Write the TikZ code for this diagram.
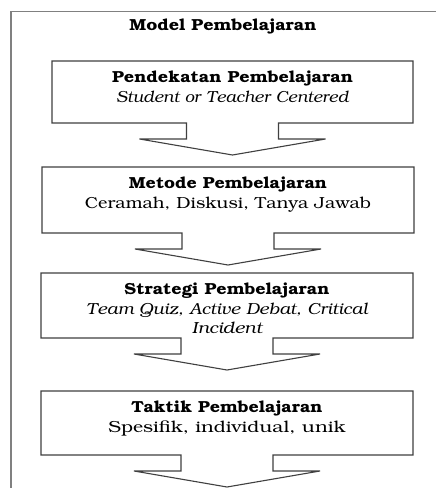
\documentclass[tikz,border=0pt]{standalone}
\usepackage[T1]{fontenc}
\usepackage{bookman}
\usepackage{graphicx}
\usepackage{tikz}
\usetikzlibrary{positioning}
% baris teks dengan lebar tetap (pt)
\newcommand{\brs}[2]{\resizebox{#1pt}{\height}{#2}}
\tikzstyle{kotak} = [rectangle, inner sep=0pt, outer sep=0pt]
\tikzstyle{teks} = [text width=380pt, align=center, inner sep=0pt]
\tikzstyle{garis} = [line width=1.1pt, black!75]
\tikzstyle{bingkai} = [line width=1.4pt, black!50]

% kotak dengan ekor panah ke bawah
\newcommand{\panah}[1]{%
  \draw[garis] ([xshift=-46pt]#1.south) -- (#1.south west) -- (#1.north west)
    -- (#1.north east) -- (#1.south east) -- ([xshift=46pt]#1.south)
    -- ++(0,-16) -- ++(47,0) -- ([yshift=-32pt]#1.south)
    -- ([shift={(-93pt,-16pt)}]#1.south) -- ++(47,0) -- cycle;}

\begin{document}
\begin{tikzpicture}[x=1pt, y=1pt, font=\fontsize{16}{19.5}\selectfont]
  \fill[white] (0,0) rectangle (436,-488);
  \useasboundingbox (0,0) rectangle (436,-488);
  \draw[bingkai] (11,-500) -- (11,-11.5) -- (450,-11.5);

  \node (judul) at (223,-27) {\brs{187}{\bfseries Model Pembelajaran}};

  \node [kotak, minimum width=361pt, minimum height=62pt] (b1) at (232.5,-92) {};
  \node [kotak, minimum width=372pt, minimum height=66pt] (b2) at (228,-200) {};
  \node [kotak, minimum width=372pt, minimum height=65pt] (b3) at (227,-305.5) {};
  \node [kotak, minimum width=372pt, minimum height=64pt] (b4) at (227,-423) {};

  \panah{b1}
  \panah{b2}
  \panah{b3}
  \panah{b4}

  \node [teks, below=10pt of b1.north] (t1) {\brs{241}{\bfseries Pendekatan Pembelajaran}\\
    \brs{232}{\itshape Student or Teacher Centered}};
  \node [teks, below=10pt of b2.north] (t2) {\brs{198}{\bfseries Metode Pembelajaran}\\
    \brs{286}{Ceramah, Diskusi, Tanya Jawab}};
  \node [teks, below=10pt of b3.north] (t3) {\brs{205}{\bfseries Strategi Pembelajaran}\\
    \brs{281}{\itshape Team Quiz, Active Debat, Critical}\\
    \brs{70}{\itshape Incident}};
  \node [teks, below=10pt of b4.north] (t4) {\brs{191}{\bfseries Taktik Pembelajaran}\\
    \brs{237}{Spesifik, individual, unik}};
\end{tikzpicture}
\end{document}
